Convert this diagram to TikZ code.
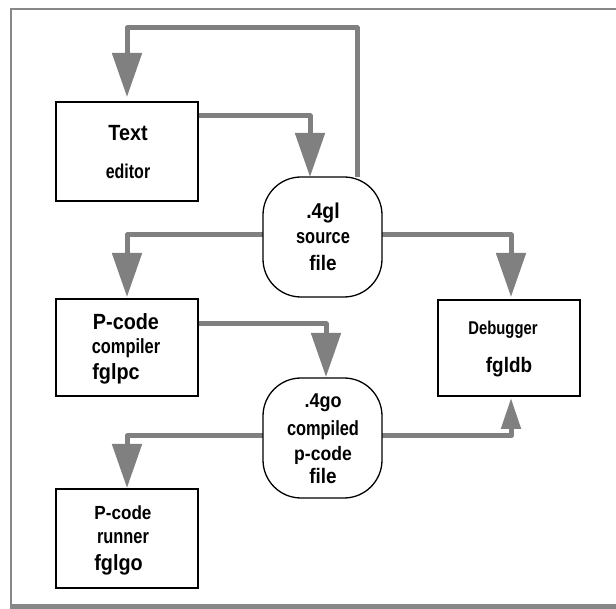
\documentclass[tikz,border=0pt]{standalone}
\usepackage{fontspec}
\setmainfont{Liberation Sans}
\newfontfamily\narrowf[FakeStretch=0.8]{Liberation Sans}
\newfontfamily\semif[FakeStretch=0.9]{Liberation Sans}
\usetikzlibrary{arrows.meta,backgrounds}
\definecolor{conngray}{RGB}{128,128,128}
\definecolor{framegray}{RGB}{136,136,136}
\newcommand\fsz[1]{\fontsize{#1pt}{#1pt}\selectfont}
\begin{document}
\begin{tikzpicture}[x=1pt,y=-1pt,
  box/.style={draw=black,line width=1.3pt,fill=white,minimum width=142pt,inner sep=0pt,outer sep=0pt},
  filenode/.style={draw=black,line width=1.3pt,fill=white,rounded corners=38pt,minimum width=119pt,minimum height=120pt,inner sep=0pt,outer sep=0pt},
  conn/.style={draw=conngray,line width=5pt,line join=round,-{Triangle[width=29pt,length=44pt]}},
  connsmall/.style={draw=conngray,line width=5pt,line join=round,-{Triangle[width=19pt,length=31pt]}},
  lbl/.style={inner sep=0pt,font=\semif\bfseries},
  nlbl/.style={inner sep=0pt,font=\narrowf\bfseries}]
\useasboundingbox (0,0) rectangle (616,609);
% nodes
\node[box,minimum height=99pt] (editor) at (127,151.5) {};
\node[filenode] (src) at (322.5,237) {};
\node[box,minimum height=97pt] (comp) at (127,347.5) {};
\node[box,minimum height=96pt] (dbg) at (509,348) {};
\node[filenode,minimum height=120pt] (go) at (322.5,438) {};
\node[box,minimum height=99pt] (run) at (127,538.5) {};

% labels
\node[lbl] (t1) at (128,133) {\fsz{22}Text};
\node[nlbl] (t2) at (128,171) {\fsz{20}editor};
\node[lbl] (s1) at (323,213) {\fsz{21.5}.4gl};
\node[nlbl] (s2) at (323,238) {\fsz{20.5}source};
\node[lbl] (s3) at (323,263) {\fsz{21}file};
\node[lbl] (c1) at (126,322) {\fsz{22}P-code};
\node[nlbl] (c2) at (126,348) {\fsz{20.5}compiler};
\node[lbl] (c3) at (116,374) {\fsz{22}fglpc};
\node[nlbl] (d1) at (503,330) {\fsz{18.5}Debugger};
\node[lbl] (d2) at (509,367) {\fsz{21}fgldb};
\node[lbl] (g1) at (323,403) {\fsz{20}.4go};
\node[nlbl] (g2) at (323,430) {\fsz{20.5}compiled};
\node[lbl] (g3) at (323,455) {\fsz{19.5}p-code};
\node[lbl] (g4) at (323,476) {\fsz{21}file};
\node[lbl] (r1) at (123,513) {\fsz{19}P-code};
\node[nlbl] (r2) at (123,538) {\fsz{20.5}runner};
\node[lbl] (r3) at (118.5,565) {\fsz{22}fglgo};

% connectors
\coordinate (loopx) at (357,0);
\coordinate (loopy) at (0,28);
\begin{scope}[on background layer]
\fill[white] (0,0) rectangle (616,609);
\draw[framegray,line width=2.5pt] (616,9) -- (11,9) -- (11,606);
\draw[framegray,line width=5pt] (9.75,606.5) -- (616,606.5);
\draw[conn] (src.north -| loopx) -- (loopx |- loopy) -| ([yshift=5pt]editor.north);
\draw[conn] ([yshift=-14pt]editor.north east) -| ([xshift=-12.5pt]src.north);
\draw[conn] ([yshift=2pt]src.west) -| ([yshift=2pt]comp.north);
\draw[conn] ([yshift=2pt]src.east) -| ([xshift=2pt,yshift=3pt]dbg.north);
\draw[conn] ([yshift=-25pt]comp.north east) -| ([xshift=3.5pt,yshift=1pt]go.north);
\draw[conn] ([yshift=2pt]go.west) -| ([yshift=1pt]run.north);
\draw[connsmall] ([yshift=2pt]go.east) -| ([xshift=2pt,yshift=-2pt]dbg.south);
\end{scope}
\end{tikzpicture}
\end{document}
